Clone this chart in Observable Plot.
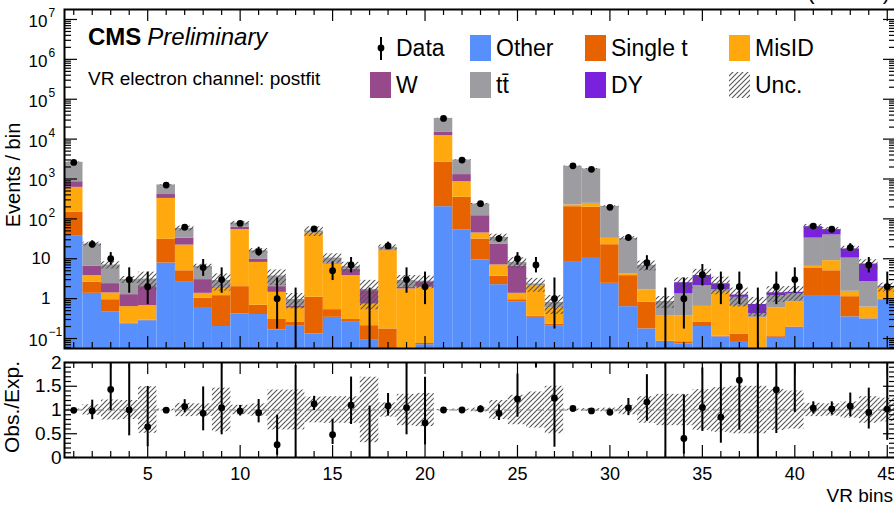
<!DOCTYPE html>
<html><head><meta charset="utf-8">
<script src="https://cdn.jsdelivr.net/npm/d3@7"></script>
<script src="https://cdn.jsdelivr.net/npm/@observablehq/plot@0.6"></script>
<style>
html,body{margin:0;padding:0;overflow:hidden;background:#fff;}
#wrap{position:relative;width:896px;height:507px;font-family:"Liberation Sans",Arial,sans-serif;}
#wrap svg{display:block;max-width:none !important;}
</style></head><body><div id="wrap"></div>
<script>
// ---------------- data ----------------
const bins = d3.range(1, 46);
const components = ["Other", "Single t", "MisID", "W", "tt̄", "DY"];
const compColors = ["#5790fc", "#e76300", "#ffa90e", "#964a8b", "#9c9ca1", "#7a21dd"];
const other   = [38,1.36,0.47,0.23,0.28,7.8,2.57,0.57,0.2,0.41,0.4,0.164,0.21,0.13,0.34,0.255,0.094,0.04,0.04,0.07,202,53.5,9.3,2.24,0.84,0.34,0.21,8.13,10.2,2.42,0.63,0.174,0.08,0.073,0.2,0.11,0.08,0.03,0.107,0.19,1.14,1.14,0.35,0.31,0.94];
const singleT = [108,1.21,0.47,0.01,0.01,22.9,2.43,0.45,0.99,1.59,0.28,0.136,0.05,0.95,0.19,0.045,0.116,0.134,0.01,0.005,2410,293.5,22,1.39,0.1,0.02,0.02,194,185,20.1,3.14,0.64,0.005,0.01,0.06,0.005,0.05,0.005,0.005,0.005,4.76,3.86,0.77,0.005,0.02];
const misID   = [471,1.2,0.45,0.39,0.38,295,17,0.34,0.66,51.7,7.42,1.14,0.32,43.2,6.87,3.47,0.52,15.8,1.7,1.85,9558,508,13,3.37,0.42,1.76,0.35,22,50,10,0.38,0.84,0.29,0.29,0.38,1.33,0.51,0.3,0.47,0.65,0.56,3.95,0.41,0.3,0.9];
const wjets   = [238,2.69,0.99,0.63,1.33,82,11,1.64,0.1,7.8,1.77,0.56,0.06,0.5,0.4,1.73,0.86,0.3,0.17,0.72,2580,435,75.7,16.5,5.1,0,0,0,0,0,0,0,0,0,0,0,0,0,0,0,0,0,0,0,0];
const ttbar   = [1765,17.0,4.6,1.74,1.1,300,24.8,3.45,0.91,17.2,6.03,1.7,0.31,4.9,2.6,0.86,0.11,3.1,0.94,0.1,18250,1700,115,10.9,1.67,0.21,0.22,1850,1535,172.5,28.35,5.2,0.475,0.94,1.48,0.25,0.44,0.08,0.61,0.47,26.5,30.45,8.87,2.06,0.05];
const dy      = [0,0,0,0,0,0,0,0,0,0,0,0,0,0,0,0,0,0,0,0,0,0,0,0,0,0,0,0,0,0,0,0,0,1.19,1.68,0.66,0.15,0.3,0.21,0.125,30.7,14.3,7.2,4.7,0.05];
const observed = [2600,23,10,3,2,705,62,6,3,77,15,1,0,56,5,7,0,21,3,2,33000,2990,240,32,10,7,1,2140,1745,195,34,8,0,1,4,2,2,0,2,3,66,55,19,7,2];
const relUnc  = [0.02,0.11,0.21,0.2,0.49,0.02,0.14,0.13,0.46,0.1,0.13,0.42,0.42,0.27,0.28,0.28,0.69,0.15,0.33,0.35,0.01,0.02,0.04,0.2,0.31,0.38,0.5,0.02,0.03,0.04,0.1,0.28,0.33,0.33,0.43,0.47,0.5,0.5,0.43,0.4,0.14,0.13,0.17,0.28,0.25];
// Garwood 68% Poisson interval bounds for small counts
const garwoodLow  = [0,0.173,0.708,1.367,2.086,2.840,3.620,4.419,5.232,6.057,6.891];
const garwoodHigh = [1.841,3.300,4.638,5.918,7.163,8.382,9.584,10.77,11.95,13.11,14.27];
const xTickLabels = [5,10,15,20,25,30,35,40,45];
const yDecades = [-1,0,1,2,3,4,5,6,7];
const ratioTicks = [0,0.5,1,1.5,2];
const ratioTickLabels = ["0","0.5","1","1.5","2"];

// ---------------- derived tables ----------------
const series = [other, singleT, misID, wjets, ttbar, dy];
const FLOOR = 1e-3;
const stackRows = [];
const totals = bins.map((b, i) => {
  let cum = 0;
  series.forEach((s, k) => {
    const v = s[i];
    if (v > 0) stackRows.push({bin: b, comp: components[k], y1: Math.max(cum, FLOOR), y2: cum + v});
    cum += v;
  });
  return cum;
});
const uncRows = bins.map((b, i) => ({bin: b, lo: totals[i] * (1 - relUnc[i]), hi: totals[i] * (1 + relUnc[i]), u: relUnc[i]}));
const dataRows = bins.map((b, i) => {
  const n = observed[i];
  let lo, hi;
  if (n <= 10) { lo = garwoodLow[n]; hi = garwoodHigh[n]; }
  else { lo = n + 0.5 - Math.sqrt(n + 0.25); hi = n + 0.5 + Math.sqrt(n + 0.25); }
  return {bin: b, n, lo, hi, tot: totals[i]};
});

// ---------------- geometry ----------------
const W = 896, H1 = 352, H2 = 155, ML = 64, MR = 0;
const yLo = Math.pow(10, -1.25), yHi = Math.pow(10, 7.25);
const frameW = W - ML - MR;
const pxX = frameW / 45;
const pxDec = (H1 - 9 - 4) / 8.5;
const font = '"Liberation Sans", Arial, sans-serif';

const majorY = yDecades.map(e => Math.pow(10, e));
const minorY = [];
for (let e = -2; e <= 7; e++) for (let k = 2; k <= 9; k++) { const v = k * Math.pow(10, e); if (v > yLo && v < yHi) minorY.push(v); }
const tickLen = d => (d % 5 === 0 ? 12 : 6);

function yTicks(vals, len) {
  return [
    Plot.ruleY(vals, {y: d => d, x1: 0.5, x2: 0.5 + len / pxX, stroke: "black", strokeWidth: 1.2}),
    Plot.ruleY(vals, {y: d => d, x1: 45.5 - len / pxX, x2: 45.5, stroke: "black", strokeWidth: 1.2})
  ];
}
const plainDecades = yDecades.filter(e => e === 0 || e === 1);
const powDecades = yDecades.filter(e => e !== 0 && e !== 1);

// ---------------- main panel ----------------
const main = Plot.plot({
  width: W, height: H1, marginLeft: ML, marginRight: MR, marginTop: 9, marginBottom: 4,
  style: {fontFamily: font, fontSize: "17px", background: "white", overflow: "visible"},
  x: {domain: [0.5, 45.5], axis: null},
  y: {type: "log", domain: [yLo, yHi], axis: null},
  color: {domain: components, range: compColors},
  marks: [
    Plot.rect(stackRows, {x1: d => d.bin - 0.5, x2: d => d.bin + 0.5, y1: "y1", y2: "y2", fill: "comp", clip: true}),
    Plot.rect(uncRows, {x1: d => d.bin - 0.5, x2: d => d.bin + 0.5, y1: "lo", y2: "hi", fill: "url(#hatchA)", clip: true}),
    Plot.ruleX(dataRows, {x: "bin", y1: d => Math.max(d.lo, FLOOR), y2: "hi", stroke: "black", strokeWidth: 2, clip: true}),
    Plot.dot(dataRows.filter(d => d.n > 0), {x: "bin", y: "n", r: 3.4, fill: "black", stroke: "none", clip: true}),
    ...yTicks(majorY, 13),
    ...yTicks(minorY, 7),
    Plot.ruleX(bins, {x: d => d, y1: yLo, y2: d => yLo * Math.pow(10, tickLen(d) / pxDec), stroke: "black", strokeWidth: 1.2}),
    Plot.ruleX(bins, {x: d => d, y1: d => yHi / Math.pow(10, tickLen(d) / pxDec), y2: yHi, stroke: "black", strokeWidth: 1.2}),
    Plot.frame({stroke: "black", strokeWidth: 2}),
    Plot.text(plainDecades, {x: 0.5, y: e => Math.pow(10, e), text: e => (e === 0 ? "1" : "10"), textAnchor: "end",
      dx: -14, fontSize: 17, fill: "black"}),
    Plot.text(powDecades, {x: 0.5, y: e => Math.pow(10, e), text: () => "10", textAnchor: "end",
      dx: -17, dy: 2, fontSize: 17, fill: "black"}),
    Plot.text(powDecades, {x: 0.5, y: e => Math.pow(10, e), text: e => (e < 0 ? "\u2212" + (-e) : String(e)),
      textAnchor: "start", dx: -16, dy: -6, fontSize: 12, fill: "black"})
  ]
});

// ---------------- ratio panel ----------------
const rMinor = d3.range(0.1, 2, 0.1).filter(v => Math.abs(v * 2 - Math.round(v * 2)) > 1e-6);
const rpx = (H2 - 10 - 50) / 2;
const ratio = Plot.plot({
  width: W, height: H2, marginLeft: ML, marginRight: MR, marginTop: 10, marginBottom: 50,
  style: {fontFamily: font, fontSize: "17px", background: "white", overflow: "visible"},
  x: {domain: [0.5, 45.5], axis: null},
  y: {domain: [0, 2], axis: null},
  marks: [
    Plot.rect(uncRows, {x1: d => d.bin - 0.5, x2: d => d.bin + 0.5, y1: d => 1 - d.u, y2: d => 1 + d.u, fill: "url(#hatchB)", clip: true}),
    Plot.ruleY([1], {stroke: "#888", strokeWidth: 1.2, strokeDasharray: "7,4"}),
    Plot.ruleX(dataRows, {x: "bin", y1: d => d.lo / d.tot, y2: d => d.hi / d.tot, stroke: "black", strokeWidth: 2, clip: true}),
    Plot.dot(dataRows.filter(d => d.n > 0), {x: "bin", y: d => d.n / d.tot, r: 3.4, fill: "black", stroke: "none", clip: true}),
    Plot.ruleY(ratioTicks, {y: d => d, x1: 0.5, x2: 0.5 + 13 / pxX, stroke: "black", strokeWidth: 1.2}),
    Plot.ruleY(ratioTicks, {y: d => d, x1: 45.5 - 13 / pxX, x2: 45.5, stroke: "black", strokeWidth: 1.2}),
    Plot.ruleY(rMinor, {y: d => d, x1: 0.5, x2: 0.5 + 7 / pxX, stroke: "black", strokeWidth: 1.2}),
    Plot.ruleY(rMinor, {y: d => d, x1: 45.5 - 7 / pxX, x2: 45.5, stroke: "black", strokeWidth: 1.2}),
    Plot.ruleX(bins, {x: d => d, y1: 0, y2: d => tickLen(d) / rpx, stroke: "black", strokeWidth: 1.2}),
    Plot.ruleX(bins, {x: d => d, y1: d => 2 - tickLen(d) / rpx, y2: 2, stroke: "black", strokeWidth: 1.2}),
    Plot.frame({stroke: "black", strokeWidth: 2}),
    Plot.text(ratioTicks, {x: 0.5, y: d => d, text: (d, i) => ratioTickLabels[i], textAnchor: "end", dx: -3, fontSize: 19, fill: "black"}),
    Plot.text(xTickLabels, {x: d => d, y: 0, text: d => String(d), dy: 17, fontSize: 18, fill: "black"})
  ]
});

// ---------------- assemble ----------------
function addHatch(svg, id) {
  const p = d3.select(svg).insert("defs", ":first-child").append("pattern")
    .attr("id", id).attr("patternUnits", "userSpaceOnUse").attr("width", 5).attr("height", 5);
  p.append("path").attr("d", "M-1,1 l2,-2 M0,5 l5,-5 M4,6 l2,-2").attr("stroke", "#555").attr("stroke-width", 1.1).attr("fill", "none");
}
addHatch(main, "hatchA");
addHatch(ratio, "hatchB");

const wrap = document.getElementById("wrap");
wrap.appendChild(main);
wrap.appendChild(ratio);

const ms = d3.select(main);
const txt = (sel, x, y, s, size, opts = {}) => {
  const t = sel.append("text").attr("x", x).attr("y", y).attr("font-size", size).attr("fill", "black")
    .attr("font-family", font).attr("text-anchor", "start").text(s);
  Object.entries(opts).forEach(([k, v]) => t.attr(k, v));
  return t;
};
// header texts (the luminosity label is cut off by the top edge in the reference)
txt(ms, 890, -1, "138 fb\u207B\u00B9 (13 TeV)", 22, {"text-anchor": "end"});
const cms = ms.append("text").attr("x", 88).attr("y", 45).attr("font-size", 24).attr("font-family", font).attr("text-anchor", "start").attr("fill", "black");
cms.append("tspan").attr("font-weight", "bold").text("CMS");
cms.append("tspan").attr("font-style", "italic").attr("dx", 6).text("Preliminary");
txt(ms, 88, 85, "VR electron channel: postfit", 19);
txt(ms, 20, 175, "Events / bin", 20, {"text-anchor": "middle", transform: "rotate(-90 20 175)"});

// legend
const legendItems = [
  {label: "Data", x: 370, row: 0, kind: "data"},
  {label: "Other", x: 470, row: 0, fill: compColors[0]},
  {label: "Single t", x: 585, row: 0, fill: compColors[1]},
  {label: "MisID", x: 729, row: 0, fill: compColors[2]},
  {label: "W", x: 370, row: 1, fill: compColors[3]},
  {label: "tt̄", x: 470, row: 1, fill: compColors[4]},
  {label: "DY", x: 585, row: 1, fill: compColors[5]},
  {label: "Unc.", x: 729, row: 1, fill: "url(#hatchA)"}
];
legendItems.forEach(it => {
  const y0 = it.row === 0 ? 35 : 72;
  if (it.kind === "data") {
    ms.append("line").attr("x1", it.x + 11).attr("x2", it.x + 11).attr("y1", y0 + 2).attr("y2", y0 + 25).attr("stroke", "black").attr("stroke-width", 2);
    ms.append("circle").attr("cx", it.x + 11).attr("cy", y0 + 13).attr("r", 3.4).attr("fill", "black");
  } else {
    ms.append("rect").attr("x", it.x).attr("y", y0).attr("width", 21).attr("height", 26).attr("fill", it.fill);
  }
  txt(ms, it.x + 26, y0 + 21, it.label, 23);
});

// ratio titles
const rs = d3.select(ratio);
txt(rs, 19, 55, "Obs./Exp.", 21, {"text-anchor": "middle", transform: "rotate(-90 19 55)"});
txt(rs, 893, 150, "VR bins", 19, {"text-anchor": "end"});
</script></body></html>
